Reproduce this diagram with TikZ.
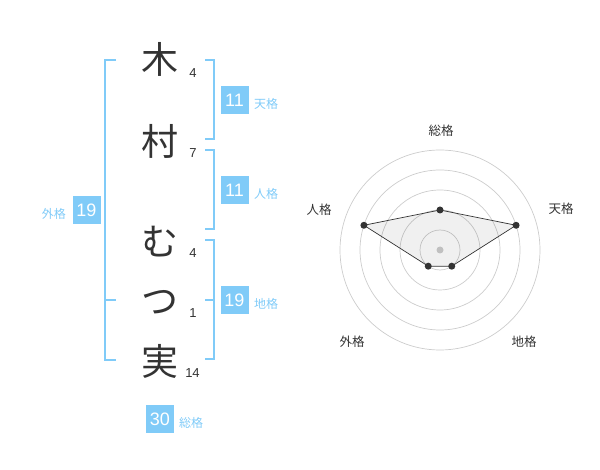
\documentclass[tikz,border=0pt]{standalone}
\usepackage{fontspec}
\setmainfont{Liberation Sans}
\newfontfamily\cjk{Noto Sans CJK JP}
\definecolor{kblue}{HTML}{80CBF8}
\definecolor{kdark}{HTML}{333333}
\definecolor{kgrid}{HTML}{CCCCCC}
\begin{document}
\begin{tikzpicture}[x=1pt,y=-1pt,
  namechar/.style={inner sep=0pt, text=kdark, font=\cjk\fontsize{37}{37}\selectfont, text height=32.56pt, text depth=4.44pt},
  strokenum/.style={inner sep=0pt, text=kdark, font=\fontsize{13}{13}\selectfont},
  scorebox/.style={inner sep=0pt, minimum size=28pt, fill=kblue, text=white, font=\fontsize{18}{18}\selectfont},
  scorelabel/.style={inner sep=0pt, text=kblue, font=\cjk\fontsize{12}{12}\selectfont, text height=10.56pt, text depth=1.44pt},
  bracket/.style={draw=kblue, line width=1.6pt},
  gridring/.style={draw=kgrid, line width=0.7pt},
  axislabel/.style={inner sep=0pt, text=kdark, font=\cjk\fontsize{12.5}{12.5}\selectfont, text height=11pt, text depth=1.5pt},
  vdot/.style={circle, fill=kdark, inner sep=0pt, minimum size=7pt},
]
\useasboundingbox (0,0) rectangle (600,470);
% name characters
\node[namechar] (c1) at (160,59) {木};
\node[namechar] (c2) at (160,141) {村};
\node[namechar] (c3) at (160,241) {む};
\node[namechar] (c4) at (160,300) {つ};
\node[namechar] (c5) at (160,361) {実};
% stroke counts
\node[strokenum] (n1) at (193,73) {4};
\node[strokenum] (n2) at (193,153) {7};
\node[strokenum] (n3) at (193,253) {4};
\node[strokenum] (n4) at (193,313) {1};
\node[strokenum] (n5) at (192.5,373) {14};
% brackets
\draw[bracket] (116,60) -| (105,360) -- (116,360);
\draw[bracket] (105,300) -- (116,300);
\draw[bracket] (205,60) -| (214,139) -- (205,139);
\draw[bracket] (205,150) -| (214,229) -- (205,229);
\draw[bracket] (205,240) -| (214,359) -- (205,359);
\draw[bracket] (205,300) -- (214,300);
% score boxes
\node[scorebox] (ten) at (234.5,100) {11};
\node[scorelabel, anchor=west] (tenl) at (254,104) {天格};
\node[scorebox] (jin) at (234.5,190) {11};
\node[scorelabel, anchor=west] (jinl) at (254,194) {人格};
\node[scorebox] (chi) at (234.5,300) {19};
\node[scorelabel, anchor=west] (chil) at (254,304) {地格};
\node[scorebox] (gai) at (86.5,210) {19};
\node[scorelabel, anchor=east] (gail) at (66,214) {外格};
\node[scorebox] (sou) at (160,419) {30};
\node[scorelabel, anchor=west] (soul) at (179,423) {総格};
% radar chart
\begin{scope}[shift={(440,250)}, yscale=-1]
  \foreach \r in {20,40,60,80,100} \draw[gridring] (0,0) circle (\r);
  \fill[kgrid] (0,0) circle (3.5);
  \coordinate (pS) at (90:40);
  \coordinate (pT) at (18:80);
  \coordinate (pC) at (-54:20);
  \coordinate (pG) at (-126:20);
  \coordinate (pJ) at (162:80);
  \draw[kdark, line width=0.7pt, fill=black, fill opacity=0.06] (pS) -- (pT) -- (pC) -- (pG) -- (pJ) -- cycle;
  \foreach \p in {pS,pT,pC,pG,pJ} \node[vdot] at (\p) {};
\end{scope}
\node[axislabel] (aS) at (441,131) {総格};
\node[axislabel] (aT) at (561,208.5) {天格};
\node[axislabel] (aJ) at (319,209.5) {人格};
\node[axislabel] (aG) at (352,342) {外格};
\node[axislabel] (aC) at (524,342) {地格};
\end{tikzpicture}
\end{document}
